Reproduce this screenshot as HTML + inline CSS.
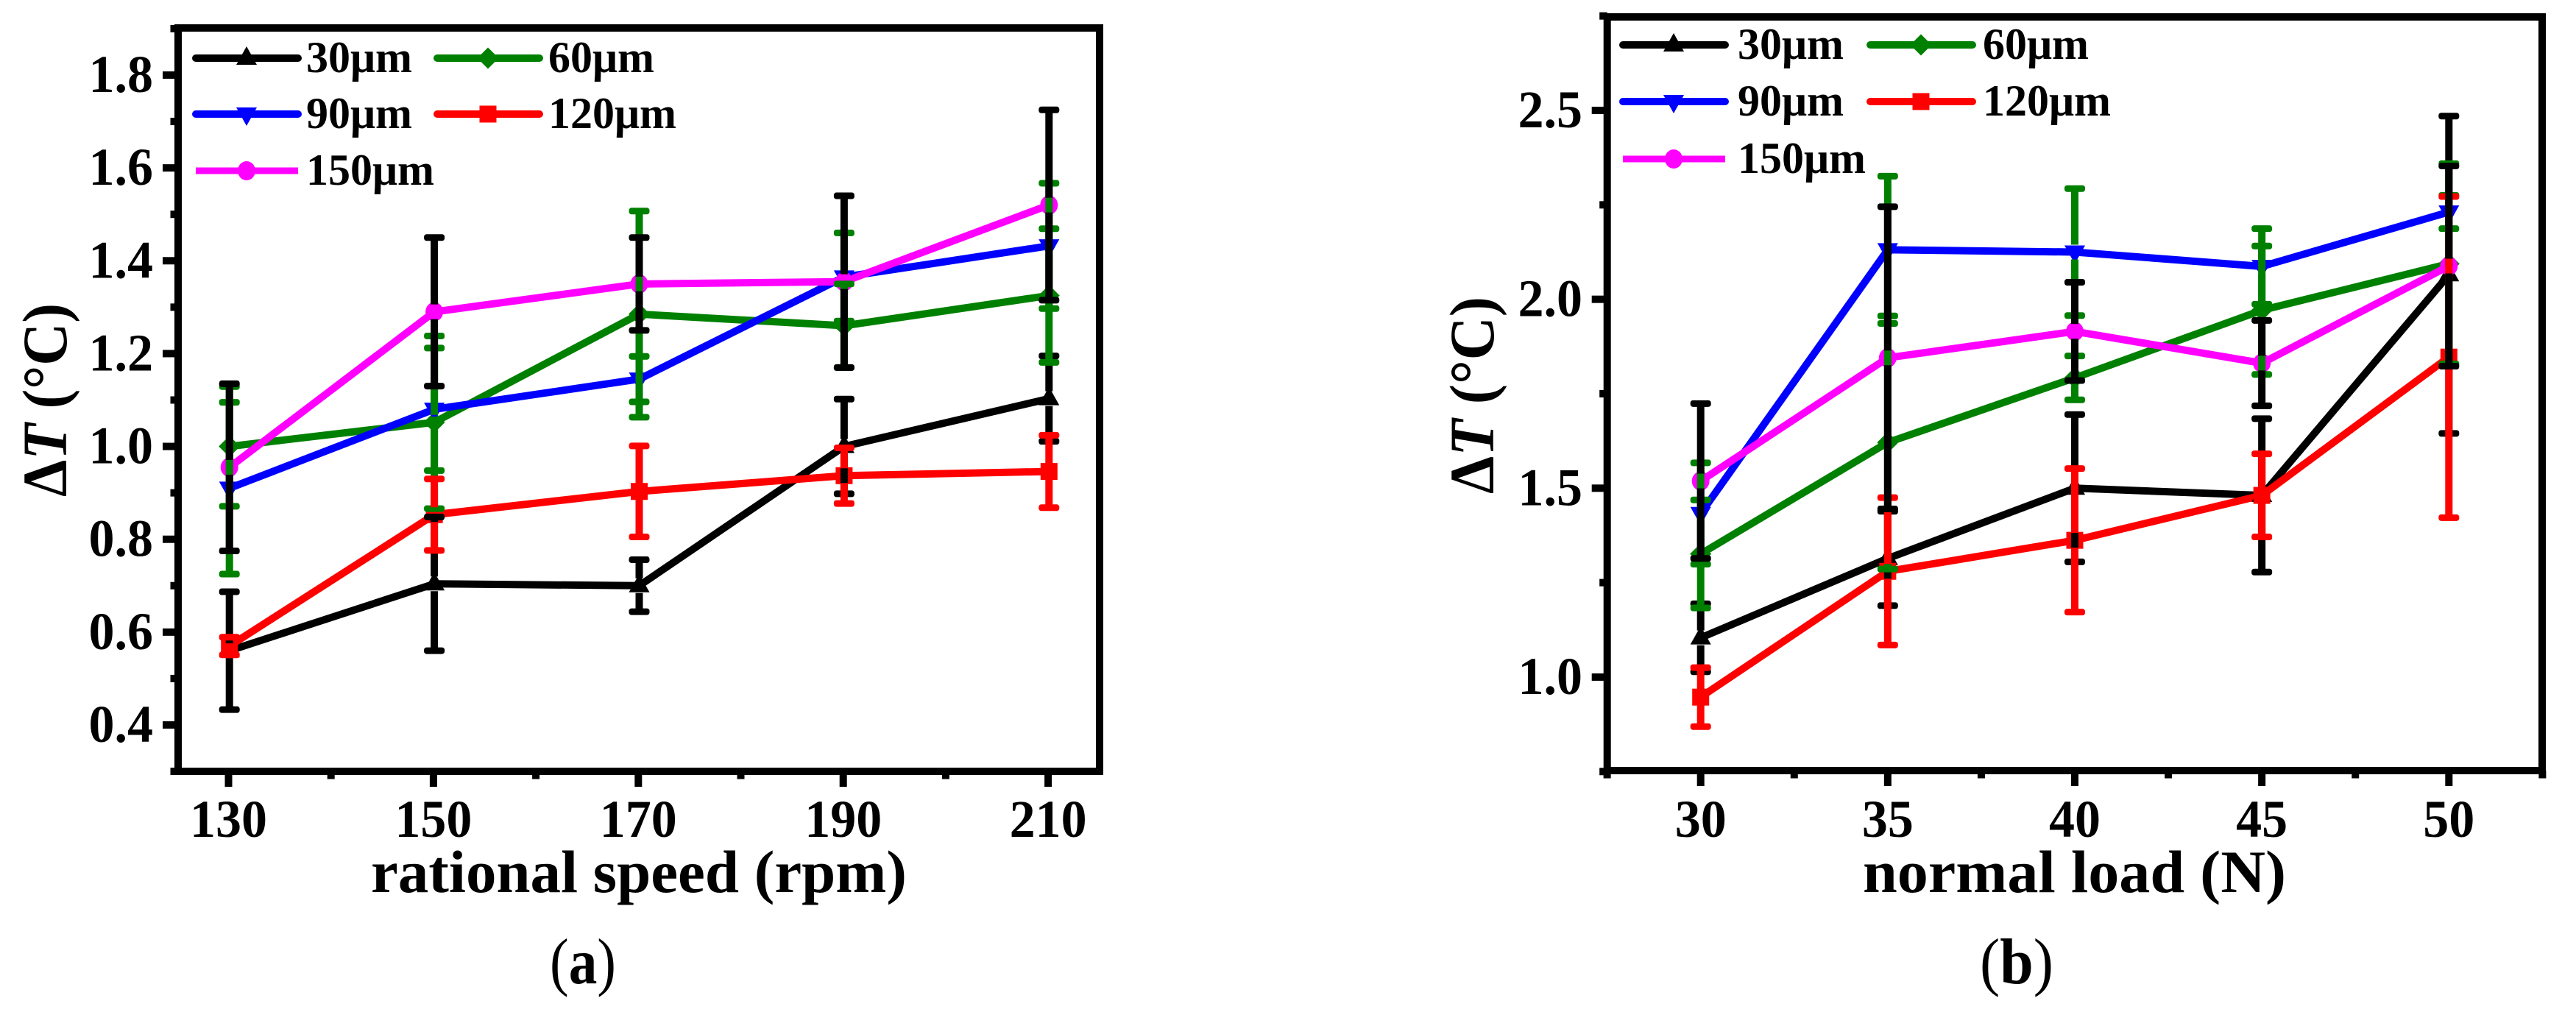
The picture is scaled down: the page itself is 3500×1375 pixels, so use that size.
<!DOCTYPE html>
<html lang="en">
<head>
<meta charset="utf-8">
<title>Temperature rise vs rational speed and normal load</title>
<style>
  html, body { margin: 0; padding: 0; background: #ffffff; }
  svg { display: block; }
  text { font-family: "Liberation Serif", "DejaVu Serif", serif; font-weight: bold; fill: #000; }
</style>
</head>
<body>
<svg id="figure" xmlns="http://www.w3.org/2000/svg" width="3500" height="1375" viewBox="0 0 3500 1375">
  <rect x="0" y="0" width="3500" height="1375" fill="#ffffff"/>
  <g id="panel-a"></g>
  <g id="panel-b"></g>
  <text x="504" y="1212" font-size="82" textLength="728" lengthAdjust="spacingAndGlyphs">rational speed (rpm)</text>
  <text x="2531" y="1212" font-size="82" textLength="575" lengthAdjust="spacingAndGlyphs">normal load (N)</text>
  <text transform="translate(90 675) rotate(-90)" font-size="86" textLength="263" lengthAdjust="spacingAndGlyphs">Δ<tspan font-style="italic">T</tspan> (°C)</text>
  <text transform="translate(2029 671) rotate(-90)" font-size="86" textLength="268" lengthAdjust="spacingAndGlyphs">Δ<tspan font-style="italic">T</tspan> (°C)</text>
  <text x="747" y="1336" font-size="88" textLength="90" lengthAdjust="spacingAndGlyphs" style="font-weight:normal">(<tspan font-weight="bold">a</tspan>)</text>
  <text x="2690" y="1336" font-size="88" textLength="100" lengthAdjust="spacingAndGlyphs" style="font-weight:normal">(<tspan font-weight="bold">b</tspan>)</text>
</svg>
<script>
// ---- shared series info ----
const seriesLabels = ['30μm', '60μm', '90μm', '120μm', '150μm'];
const seriesKeys = ['s30', 's60', 's90', 's120', 's150'];

// ---- panel (a): rational speed ----
const speedCategories = [130, 150, 170, 190, 210];
const speedMinorTicks = [140, 160, 180, 200];
const speedYTicks = [0.4, 0.6, 0.8, 1.0, 1.2, 1.4, 1.6, 1.8];
const speedYMinor = [0.3, 0.5, 0.7, 0.9, 1.1, 1.3, 1.5, 1.7, 1.9];
const speed30 = [0.56, 0.704, 0.70, 1.0, 1.103];
const speed60 = [1.0, 1.052, 1.285, 1.26, 1.325];
const speed90 = [0.91, 1.08, 1.145, 1.365, 1.432];
const speed120 = [0.57, 0.853, 0.903, 0.937, 0.946];
const speed150 = [0.955, 1.29, 1.35, 1.355, 1.52];
const speedErr30 = [0.127, 0.144, 0.056, 0.102, 0.092];
const speedErr60 = [0.129, 0.186, 0.222, 0.09, 0.144];
const speedErr90 = [0.185, 0.132, 0.049, 0.095, 0.135];
const speedErr120 = [0.019, 0.077, 0.098, 0.06, 0.078];
const speedErr150 = [0.18, 0.16, 0.10, 0.185, 0.205];

// ---- panel (b): normal load ----
const loadCategories = [30, 35, 40, 45, 50];
const loadMinorTicks = [27.5, 32.5, 37.5, 42.5, 47.5, 52.5];
const loadYTicks = [1.0, 1.5, 2.0, 2.5];
const loadYMinor = [0.75, 1.25, 1.75, 2.25, 2.75];
const load30 = [1.104, 1.314, 1.50, 1.481, 2.065];
const load60 = [1.326, 1.621, 1.792, 1.971, 2.094];
const load90 = [1.433, 2.131, 2.125, 2.087, 2.231];
const load120 = [0.947, 1.28, 1.362, 1.481, 1.847];
const load150 = [1.519, 1.845, 1.915, 1.831, 2.088];
const loadErr30 = [0.09, 0.125, 0.195, 0.203, 0.42];
const loadErr60 = [0.143, 0.335, 0.058, 0.17, 0.265];
const loadErr90 = [0.134, 0.195, 0.168, 0.10, 0.044];
const loadErr120 = [0.078, 0.195, 0.19, 0.11, 0.425];
const loadErr150 = [0.205, 0.40, 0.13, 0.113, 0.265];

const NS = 'http://www.w3.org/2000/svg';
const lineColors = ['#000000', '#008000', '#0000ff', '#ff0000', '#ff00ff'];
const errColors = ['#000000', '#008000', '#008000', '#ff0000', '#000000'];
const errOrder = [0, 1, 2, 3, 4];

function mk(parent, tag, attrs) {
  const el = document.createElementNS(NS, tag);
  for (const k in attrs) el.setAttribute(k, attrs[k]);
  parent.appendChild(el);
  return el;
}

function drawMarker(parent, idx, cx, cy, key) {
  const c = lineColors[idx];
  let el;
  if (idx === 0) {
    el = mk(parent, 'polygon', { points: (cx - 14) + ',' + (cy + 9) + ' ' + (cx + 14) + ',' + (cy + 9) + ' ' + cx + ',' + (cy - 16), fill: c });
  } else if (idx === 1) {
    el = mk(parent, 'polygon', { points: (cx - 14.5) + ',' + cy + ' ' + cx + ',' + (cy - 14.5) + ' ' + (cx + 14.5) + ',' + cy + ' ' + cx + ',' + (cy + 14.5), fill: c });
  } else if (idx === 2) {
    el = mk(parent, 'polygon', { points: (cx - 14) + ',' + (cy - 9) + ' ' + (cx + 14) + ',' + (cy - 9) + ' ' + cx + ',' + (cy + 16), fill: c });
  } else if (idx === 3) {
    el = mk(parent, 'rect', { x: cx - 11.5, y: cy - 11.5, width: 23, height: 23, fill: c });
  } else {
    el = mk(parent, 'ellipse', { cx: cx, cy: cy, rx: 12, ry: 13, fill: c });
  }
  
  
  return el;
}

function drawPanel(p) {
  const root = document.getElementById(p.id);
  const xA = p.xAxis;
  const yA = p.yAxis;

  // error bars are drawn after lines, lines first
  const lines = mk(root, 'g', {});
  
  

  p.series.forEach(function (vals, s) {
    const pts = vals.map(function (v, i) { return xA(p.categories[i]) + ',' + yA(v); }).join(' ');
    const line = mk(lines, 'polyline', { points: pts, fill: 'none', stroke: lineColors[s], 'stroke-width': 10, 'stroke-linejoin': 'round' });
    
    
  });
  p.series.forEach(function (vals, s) {
    vals.forEach(function (v, i) {
      drawMarker(lines, s, xA(p.categories[i]), yA(v), seriesKeys[s]);
    });
  });

  const errs = mk(root, 'g', {});
  
  
  const gap = 10;
  errOrder.forEach(function (s) {
    const c = errColors[s];
    p.series[s].forEach(function (v, i) {
      const x = xA(p.categories[i]);
      const y = yA(v);
      const yTop = yA(v + p.errors[s][i]);
      const yBot = yA(v - p.errors[s][i]);
      if (y - gap > yTop) {
        const up = mk(errs, 'line', { x1: x, x2: x, y1: yTop, y2: y - gap, stroke: c, 'stroke-width': 10 });
        
        
      }
      if (y + gap < yBot) {
        const down = mk(errs, 'line', { x1: x, x2: x, y1: y + gap, y2: yBot, stroke: c, 'stroke-width': 10 });
        
        
      }
      [yTop, yBot].forEach(function (yc) {
        const cap = mk(errs, 'rect', { x: x - 14, y: yc - 4.5, width: 28, height: 9, rx: 3.5, fill: c });
        
        
      });
    });
  });

  // axes frame
  const frame = mk(root, 'rect', { x: p.left, y: p.top, width: p.right - p.left, height: p.bottom - p.top, fill: 'none', stroke: '#000', 'stroke-width': 10 });
  
  

  // y ticks
  p.yTicks.forEach(function (t) {
    const y = yA(t);
    const tick = mk(root, 'rect', { x: p.left - 21, y: y - 5, width: 21, height: 10, fill: '#000' });
    
    
    const lab = mk(root, 'text', { x: p.left + p.yLabelOffset, y: y + 23, 'font-size': 72, 'text-anchor': 'end', textLength: 87.5, lengthAdjust: 'spacingAndGlyphs' });
    lab.textContent = t.toFixed(1);
    
    
  });
  p.yMinor.forEach(function (t) {
    const tick = mk(root, 'rect', { x: p.left - 10.5, y: yA(t) - 5, width: 10.5, height: 10, fill: '#000' });
    
    
  });

  // x ticks
  p.categories.forEach(function (t) {
    const x = xA(t) - p.tickShift;
    const tick = mk(root, 'rect', { x: x - 5, y: p.bottom, width: 10, height: 21, fill: '#000' });
    
    
    const s = String(t);
    const lab = mk(root, 'text', { x: x, y: 1137, 'font-size': 72, 'text-anchor': 'middle', textLength: s.length * 35, lengthAdjust: 'spacingAndGlyphs' });
    lab.textContent = s;
    
    
  });
  p.xMinor.forEach(function (t) {
    const tick = mk(root, 'rect', { x: xA(t) - p.tickShift - 5, y: p.bottom, width: 10, height: 10.5, fill: '#000' });
    
    
  });

  // legend
  const legend = mk(root, 'g', {});
  
  
  seriesLabels.forEach(function (label, s) {
    const col = s % 2;
    const row = Math.floor(s / 2);
    const ly = p.legend.rows[row];
    const lx = p.legend.lineX[col];
    const entry = mk(legend, 'g', {});
    
    
    mk(entry, 'line', { x1: lx + 4, x2: lx + 143, y1: ly, y2: ly, stroke: lineColors[s], 'stroke-width': s === 4 ? 9 : 10, 'stroke-linecap': s === 4 ? 'butt' : 'round' });
    drawMarker(entry, s, lx + 73, ly, seriesKeys[s] + '-legend');
    const t = mk(entry, 'text', { x: p.legend.textX[col], y: ly + 19, 'font-size': 60 });
    t.textContent = label;
  });
}

drawPanel({
  id: 'panel-a',
  categories: speedCategories,
  xMinor: speedMinorTicks,
  yTicks: speedYTicks,
  yMinor: speedYMinor,
  series: [speed30, speed60, speed90, speed120, speed150],
  errors: [speedErr30, speedErr60, speedErr90, speedErr120, speedErr150],
  xAxis: function (v) { return 311.7 + (v - 130) * 13.92; },
  yAxis: function (v) { return 102 + (1.8 - v) * 630.7; },
  left: 242, right: 1494, top: 38, bottom: 1048,
  tickShift: 1.2,
  yLabelOffset: -34,
  legend: { rows: [79, 155, 232], lineX: [262, 590], textX: [416, 745] }
});

drawPanel({
  id: 'panel-b',
  categories: loadCategories,
  xMinor: loadMinorTicks,
  yTicks: loadYTicks,
  yMinor: loadYMinor,
  series: [load30, load60, load90, load120, load150],
  errors: [loadErr30, loadErr60, loadErr90, loadErr120, loadErr150],
  xAxis: function (v) { return 2310.7 + (v - 30) * 50.83; },
  yAxis: function (v) { return 150 + (2.5 - v) * 513.3; },
  left: 2183.7, right: 3454, top: 23, bottom: 1047,
  tickShift: 0,
  yLabelOffset: -33.7,
  legend: { rows: [61, 138, 216], lineX: [2201, 2537], textX: [2361, 2694] }
});
</script>
</body>
</html>
